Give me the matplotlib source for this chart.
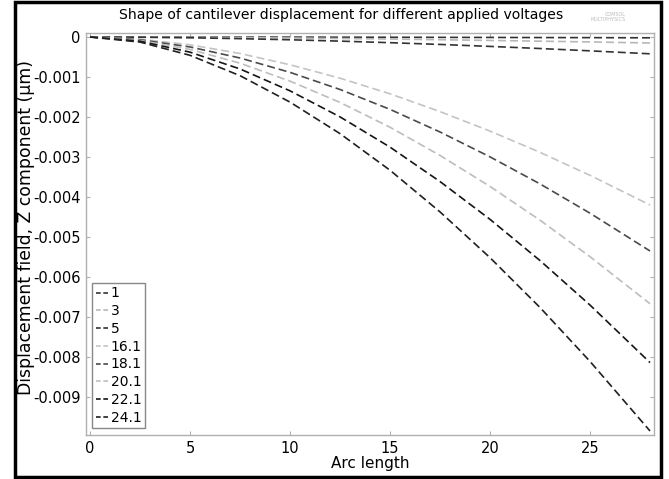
import numpy as np
import matplotlib
matplotlib.use('Agg')
import matplotlib.pyplot as plt
from matplotlib.patches import Rectangle
from matplotlib.lines import Line2D

plt.rcParams['font.family'] = ['DejaVu Sans']

# arc length positions along the cantilever
arc = [0, 2.5, 5, 7.5, 10, 12.5, 15, 17.5, 20, 22.5, 25, 28]

voltages = ['1', '3', '5', '16.1', '18.1', '20.1', '22.1', '24.1']

# displacement z-component (um)
w_1 = [0, 0, -0.000001, -0.000002, -0.000003, -0.000005, -0.000007, -0.000009, -0.000011, -0.000014, -0.000016, -0.00002]
w_3 = [0, -0.000002, -0.000007, -0.000015, -0.000025, -0.000038, -0.000051, -0.000068, -0.000086, -0.000104, -0.000123, -0.00015]
w_5 = [0, -0.0000054, -0.0000195, -0.0000412, -0.0000694, -0.000103, -0.000142, -0.000186, -0.000235, -0.000288, -0.000346, -0.00042]
w_16 = [0, -0.000054, -0.000195, -0.000412, -0.000694, -0.00103, -0.00142, -0.001865, -0.002352, -0.002884, -0.003458, -0.0042]
w_18 = [0, -0.000069, -0.000249, -0.000525, -0.000884, -0.001312, -0.001809, -0.002375, -0.002997, -0.003673, -0.004405, -0.00535]
w_20 = [0, -0.000086, -0.00031, -0.000655, -0.001103, -0.001636, -0.002256, -0.002961, -0.003736, -0.00458, -0.005492, -0.00667]
w_22 = [0, -0.000105, -0.000379, -0.000799, -0.001346, -0.001997, -0.002753, -0.003614, -0.004559, -0.005589, -0.006702, -0.00814]
w_24 = [0, -0.000127, -0.000458, -0.000967, -0.001628, -0.002416, -0.003331, -0.004373, -0.005517, -0.006763, -0.008111, -0.00985]

series = [w_1, w_3, w_5, w_16, w_18, w_20, w_22, w_24]
colors = ['#333333', '#b8b8b8', '#333333', '#c4c4c4', '#4a4a4a', '#bdbdbd', '#151515', '#202020']

fig = plt.figure(figsize=(6.69, 4.79), dpi=100)
ax = fig.add_axes([0.1286, 0.0919, 0.849, 0.8392])

for v, w, c in zip(voltages, series, colors):
    ax.plot(arc, w, color=c, lw=1.2, dashes=(4.8, 2.4), label=v)

ax.set_xlim(-0.2, 28.2)
ax.set_ylim(-0.00995, 0.0001)
ax.set_xticks([0, 5, 10, 15, 20, 25])
ax.set_yticks([0, -0.001, -0.002, -0.003, -0.004, -0.005, -0.006, -0.007, -0.008, -0.009])
ax.set_yticklabels(['0', '-0.001', '-0.002', '-0.003', '-0.004', '-0.005',
                    '-0.006', '-0.007', '-0.008', '-0.009'])
ax.tick_params(direction='in', length=3, width=0.8, color='#b0b0b0',
               top=True, right=True, labelsize=10.5, pad=4)
for s in ax.spines.values():
    s.set_color('#b0b0b0')
    s.set_linewidth(1.0)

ax.set_xlabel('Arc length', fontsize=11, labelpad=0)
ax.set_ylabel('Displacement field, Z component (µm)', fontsize=12.4)
ax.yaxis.set_label_coords(-0.09, 0.517)

fig.text(341 / 669, 1 - 15 / 479, 'Shape of cantilever displacement for different applied voltages',
         ha='center', va='center', fontsize=10.1)
fig.text(0.935, 0.965, 'COMSOL\nMULTIPHYSICS', ha='right', va='center',
         fontsize=3.5, color='#bbbbbb', linespacing=1.0)

# short "--" handles like the original legend
handles = [Line2D([], [], color=c, lw=1.2, dashes=(2.8, 1.6)) for c in colors]
leg = ax.legend(handles, voltages, loc='lower left', bbox_to_anchor=(0.0106, 0.017), borderaxespad=0,
                fontsize=10, handlelength=0.95, handletextpad=0.15, labelspacing=0.27,
                borderpad=0.25, fancybox=False, framealpha=1)
leg.get_frame().set_edgecolor('#888888')
leg.get_frame().set_linewidth(1.0)

fig.patches.append(Rectangle((15 / 669, 2 / 479), 646 / 669, 475 / 479, fill=False,
                             edgecolor='black', lw=2.5, transform=fig.transFigure, figure=fig))

fig.savefig('out.png', dpi=100)
